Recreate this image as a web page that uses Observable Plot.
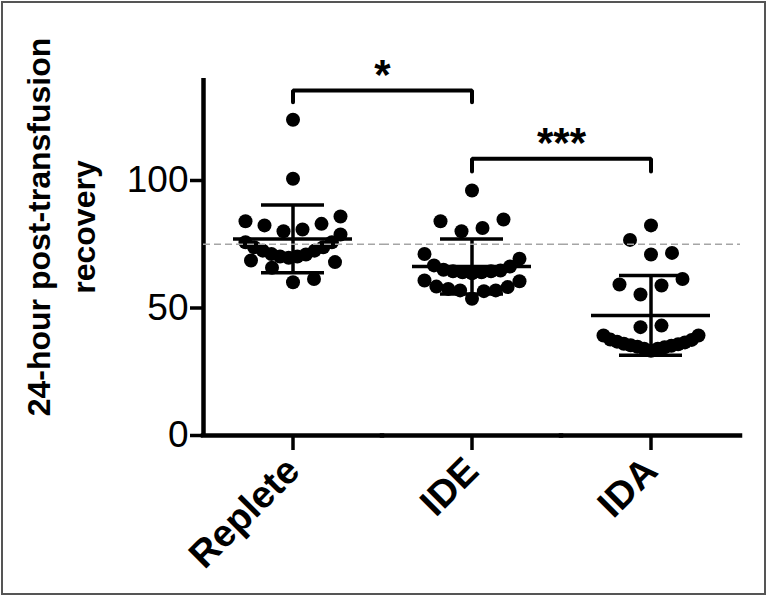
<!DOCTYPE html>
<html><head><meta charset="utf-8">
<script src="https://cdn.jsdelivr.net/npm/d3@7"></script>
<script src="https://cdn.jsdelivr.net/npm/@observablehq/plot@0.6"></script>
<style>
html,body{margin:0;padding:0;background:#fff;}
#chart svg{display:block;outline:2px solid #555;outline-offset:-3px;}
</style></head><body><div id="chart"></div>
<script>
const groups = ["Replete", "IDE", "IDA"];
const replete = [123.8, 100.7, 84.0, 82.4, 80.1, 80.8, 83.0, 85.9, 78.8, 68.6, 65.8, 60.1, 61.4, 68.0,
  75.8, 73.8, 72.5, 71.2, 70.2, 69.7, 70.2, 71.0, 72.5, 73.8, 75.8];
const ide = [96.1, 84.0, 80.1, 81.4, 84.7, 71.2, 69.3,
  66.7, 65.0, 64.4, 64.0, 63.6, 64.0, 64.4, 64.7, 66.3,
  60.8, 58.4, 57.5, 56.9, 53.6, 56.6, 56.9, 58.2, 60.5];
const ida = [82.4, 76.7, 71.6, 71.0, 59.2, 55.3, 58.8, 61.4, 43.1, 42.5, 39.2, 39.2,
  37.5, 36.5, 35.8, 35.2, 34.6, 34.0, 33.2, 34.0, 34.8, 35.4, 36.0, 36.8, 37.6];
const means = [77.1, 66.3, 47.1];
const sds = [13.3, 10.8, 15.6];
const yTicks = [0, 50, 100];
const yDomain = [0, 140];
const reference = 75;
const brackets = [
  {from: "Replete", to: "IDE", top: 135.3, leg: 130.7, label: "*"},
  {from: "IDE", to: "IDA", top: 108.5, leg: 103.5, label: "***"}
];
const yTitle = "24-hour post-transfusion\nrecovery";

// layout (scatter-dot rows, like the original software)
const W = 767, H = 596, mL = 203, mR = 27, mT = 78, mB = 161;
const xDomain = [-1, 1];
const rowSpan = 9.15, dotStep = 21, rowWidth = 95;
const facetWidth = (W - mL - mR) / groups.length;
const unitPerPx = (xDomain[1] - xDomain[0]) / facetWidth;
function scatterRows(values, group) {
  const sorted = [...values].sort((a, b) => a - b);
  const out = [];
  let i = 0;
  while (i < sorted.length) {
    let j = i;
    while (j < sorted.length && sorted[j] - sorted[i] <= rowSpan) j++;
    const row = sorted.slice(i, j), n = row.length;
    const s = n > 1 ? Math.min(dotStep, rowWidth / (n - 1)) : 0;
    row.forEach((v, k) => {
      const slot = n % 2 ? (k === 0 ? 0 : (k % 2 ? 1 : -1) * Math.ceil(k / 2))
                         : (k % 2 ? 1 : -1) * (Math.floor(k / 2) + 0.5);
      out.push({group, value: v, off: slot * s * unitPerPx});
    });
    i = j;
  }
  return out;
}
const series = [replete, ide, ida];
const points = groups.flatMap((g, i) => scatterRows(series[i], g));
const stats = groups.map((g, i) => ({group: g, mean: means[i], lo: means[i] - sds[i], hi: means[i] + sds[i]}));
const span = b => (groups.indexOf(b.to) - groups.indexOf(b.from)) * (xDomain[1] - xDomain[0]);
const bracketPts = brackets.flatMap(b => [
  {fx: b.from, k: b.label, x: 0, y: b.leg},
  {fx: b.from, k: b.label, x: 0, y: b.top},
  {fx: b.from, k: b.label, x: span(b), y: b.top},
  {fx: b.from, k: b.label, x: span(b), y: b.leg}
]);

const chart = Plot.plot({
  width: W, height: H,
  marginLeft: mL, marginRight: mR, marginTop: mT, marginBottom: mB,
  style: {fontFamily: "'Liberation Sans', Arial, sans-serif", color: "black", background: "white", overflow: "visible"},
  fx: {domain: groups, padding: 0, label: null, axis: null},
  x: {domain: xDomain, axis: null},
  y: {domain: yDomain, axis: null},
  marks: [
    Plot.dot(points, {fx: "group", x: "off", y: "value", r: 7, fill: "black"}),
    Plot.tickY(stats, {fx: "group", y: "mean", strokeWidth: 3.5, insetLeft: 30, insetRight: 30}),
    Plot.tickY(stats, {fx: "group", y: "hi", strokeWidth: 3.5, insetLeft: 58, insetRight: 58}),
    Plot.tickY(stats, {fx: "group", y: "lo", strokeWidth: 3.5, insetLeft: 58, insetRight: 58}),
    Plot.ruleX(stats, {fx: "group", x: 0, y1: "lo", y2: "hi", strokeWidth: 3.5}),
    Plot.line(bracketPts, {fx: "fx", x: "x", y: "y", z: "k", stroke: "black", strokeWidth: 4, strokeLinecap: "round", strokeLinejoin: "miter"}),
    Plot.text(brackets, {fx: "from", x: b => span(b) / 2, y: "top", text: "label", fontSize: 42, fontWeight: "bold", dy: -15}),
    Plot.text([groups[0]], {fx: d => d, frameAnchor: "left", textAnchor: "middle", text: () => yTitle, rotate: -90, fontSize: 32, fontWeight: "bold", lineHeight: 1.4, dx: -145, dy: -30}),
    Plot.ruleY([0], {strokeWidth: 4.5, strokeLinecap: "square"}),
    Plot.ruleX([groups[0]], {fx: d => d, x: xDomain[0], y1: yDomain[0], y2: yDomain[1], strokeWidth: 4.5}),
    Plot.ruleY([reference], {stroke: "#a5a5a5", strokeWidth: 1.6, strokeDasharray: "7,4"}),
    Plot.axisY({ticks: yTicks, tickSize: 13, tickPadding: 2, fontSize: 37, strokeWidth: 3.5, label: null}),
    Plot.axisFx({anchor: "bottom", tickRotate: -45, tickSize: 15, tickPadding: 14, fontSize: 38, fontWeight: "bold", strokeWidth: 3.5, label: null})
  ]
});
document.getElementById("chart").append(chart);
</script></body></html>
